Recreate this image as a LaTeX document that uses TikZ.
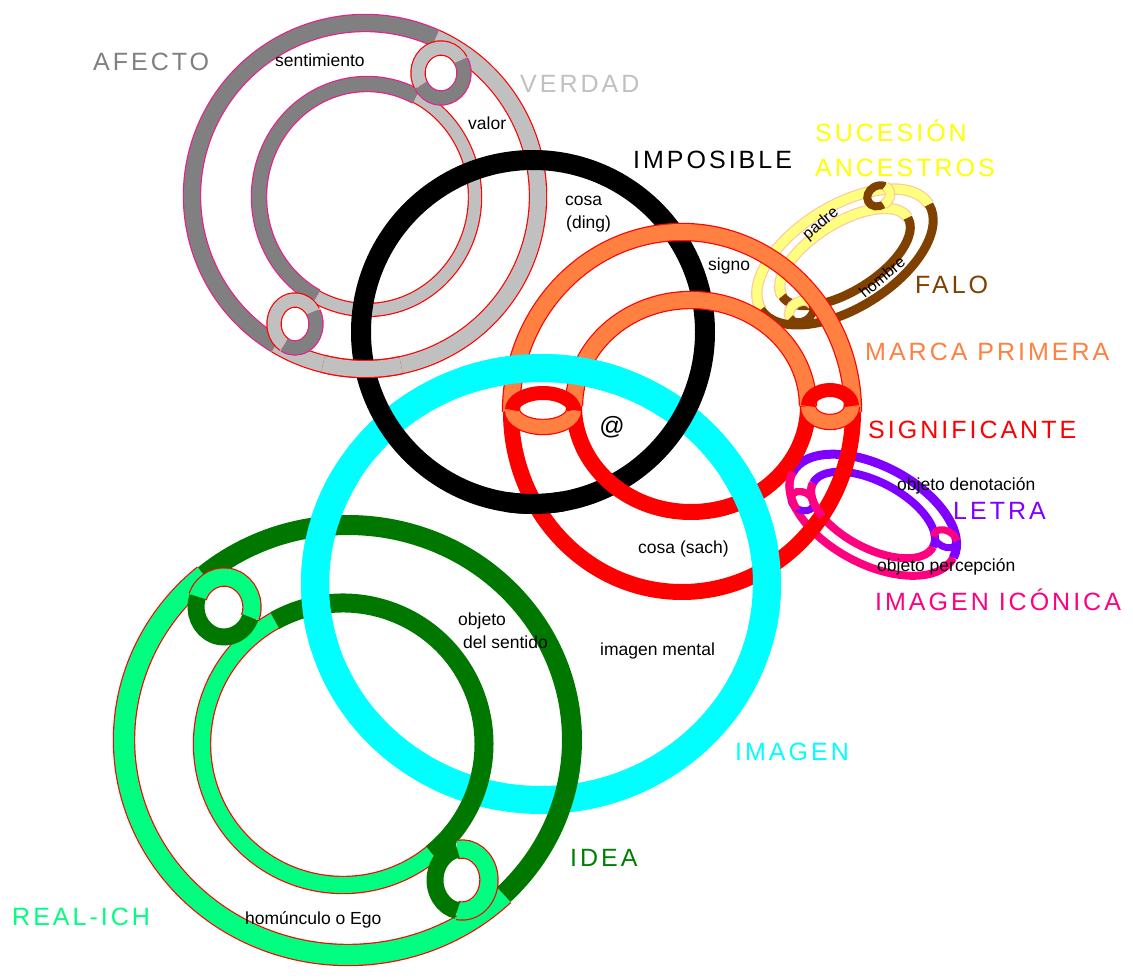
\documentclass[tikz,border=0pt]{standalone}
\usepackage{fontspec}
\setmainfont{Liberation Sans}
\newfontfamily\bigf[LetterSpace=12]{Liberation Sans}
\definecolor{cgray}{HTML}{808080}
\definecolor{csilver}{HTML}{C0C0C0}
\definecolor{cpinkol}{HTML}{E8208C}
\definecolor{cred}{HTML}{FF0000}
\definecolor{corange}{HTML}{FF8040}
\definecolor{ccyan}{HTML}{00FFFF}
\definecolor{cdkgreen}{HTML}{007800}
\definecolor{cltgreen}{HTML}{00FF80}
\definecolor{cbrown}{HTML}{804000}
\definecolor{cpaleyel}{HTML}{FFFF80}
\definecolor{cyelol}{HTML}{FFC8A0}
\definecolor{cyellow}{HTML}{FFFF00}
\definecolor{cpurple}{HTML}{8000FF}
\definecolor{cmagenta}{HTML}{FF0080}
\definecolor{ctxtgreen}{HTML}{008000}
% arc of an ellipse: style, cx, cy, rx, ry, start, end
\newcommand{\earc}[7]{\draw[#1] ([shift={(#6:#4 and #5)}]#2,#3) arc[start angle=#6,end angle=#7,x radius=#4,y radius=#5];}
% outlined band arc: colour, outline colour, width, cx, cy, rx, ry, start, end
\newcommand{\oarc}[9]{\earc{draw=#2,line width=#3+2.4}{#4}{#5}{#6}{#7}{#8}{#9}\earc{draw=#1,line width=#3}{#4}{#5}{#6}{#7}{#8}{#9}}
\begin{document}
\begin{tikzpicture}[x=1pt,y=-1pt,line cap=butt,
  lab/.style={inner sep=0pt,anchor=base west,font=\bigf\fontsize{25}{25}\selectfont},
  sm/.style={inner sep=0pt,anchor=base west,font=\fontsize{17.5}{20}\selectfont},
  rot/.style={inner sep=0pt,rotate=40,font=\fontsize{16}{16}\selectfont}]
\fill[white] (0,0) rectangle (1133,979);
\useasboundingbox (0,0) rectangle (1133,979);

% ---------- AFECTO / VERDAD (gray / silver) ----------
\oarc{csilver}{cred}{16}{365}{196}{173}{173}{-66}{121}
\oarc{cgray}{cpinkol}{16}{365}{196}{173}{173}{121}{294}
\oarc{csilver}{cred}{12}{367}{197}{108}{113}{-63}{118}
\oarc{cgray}{cpinkol}{14}{367}{197}{108}{113}{118}{297}
\oarc{csilver}{cred}{13}{441}{73}{23}{25}{150}{330}
\oarc{cgray}{cpinkol}{13}{441}{73}{23}{25}{-30}{150}
\oarc{csilver}{cred}{13}{295}{324}{21}{24}{120}{330}
\oarc{cgray}{cpinkol}{13}{295}{324}{21}{24}{-30}{120}

% ---------- IMAGEN (cyan) ----------
\draw[ccyan,line width=28] (541,584) ellipse[x radius=226,y radius=216];

% ---------- IMPOSIBLE (black) ----------
\draw[black,line width=20] (533,332) circle[radius=172];
\oarc{csilver}{cred}{16}{365}{196}{173}{173}{78}{104}

% ---------- SUCESION ANCESTROS / FALO ----------
\begin{scope}[shift={(845,257)},rotate=32]
\oarc{cpaleyel}{cyelol}{9}{0}{0}{99}{51}{180}{360}
\earc{draw=cbrown,line width=9}{0}{0}{99}{51}{0}{180}
\oarc{cpaleyel}{cyelol}{9}{0}{0}{74}{34}{180}{360}
\earc{draw=cbrown,line width=9}{0}{0}{74}{34}{0}{180}
\earc{draw=cbrown,line width=8}{61}{-34}{12}{10}{92}{332}
\oarc{cpaleyel}{cyelol}{8}{61}{-34}{12}{10}{-28}{92}
\oarc{cpaleyel}{cyelol}{8}{-66}{23}{13}{10}{182}{362}
\earc{draw=cbrown,line width=8}{-66}{23}{13}{10}{2}{182}
\end{scope}

% ---------- LETRA / IMAGEN ICONICA ----------
\begin{scope}[shift={(873,515)},rotate=-28]
\earc{draw=cmagenta,line width=8}{0}{0}{91}{49}{0}{180}
\earc{draw=cpurple,line width=9}{0}{0}{91}{49}{180}{360}
\earc{draw=cmagenta,line width=8}{0}{0}{68}{33}{0}{180}
\earc{draw=cpurple,line width=8}{0}{0}{68}{33}{180}{360}
\earc{draw=cpurple,line width=7}{-69}{21}{12}{9}{-25}{155}
\earc{draw=cmagenta,line width=7}{-69}{21}{12}{9}{155}{335}
\earc{draw=cpurple,line width=7}{75}{-13}{12}{8}{-25}{155}
\earc{draw=cmagenta,line width=7}{75}{-13}{12}{8}{155}{335}
\end{scope}

% ---------- MARCA PRIMERA / SIGNIFICANTE ----------
\oarc{corange}{cred}{16}{682}{412}{171}{180}{180}{360}
\earc{draw=cred,line width=16}{682}{412}{171}{180}{0}{180}
\oarc{corange}{cred}{16}{691}{406}{117}{106}{180}{360}
\earc{draw=cred,line width=16}{691}{406}{117}{106}{0}{180}
\oarc{corange}{cred}{14}{543}{410}{31}{17}{0}{180}
\earc{draw=cred,line width=14}{543}{410}{31}{17}{180}{360}
\oarc{corange}{cred}{14}{830}{406}{22}{16}{0}{180}
\earc{draw=cred,line width=14}{830}{406}{22}{16}{180}{360}

% pink passes over the red band
\begin{scope}[shift={(873,515)},rotate=-28]
\earc{draw=cmagenta,line width=8}{0}{0}{91}{49}{140}{180}
\earc{draw=cmagenta,line width=8}{0}{0}{68}{33}{130}{180}
\earc{draw=cmagenta,line width=7}{-69}{21}{12}{9}{155}{335}
\end{scope}

% crossings
\earc{draw=black,line width=20}{533}{332}{172}{172}{80}{99}
\earc{draw=ccyan,line width=28}{541}{584}{226}{216}{250}{290}
\earc{draw=ccyan,line width=28}{541}{584}{226}{216}{328}{372}

% ---------- IDEA / REAL-ICH (greens) ----------
\earc{draw=cdkgreen,line width=20}{348}{740}{224}{215}{-130}{46}
\oarc{cltgreen}{cred}{20}{348}{740}{224}{215}{46}{230}
\earc{draw=cdkgreen,line width=19}{343}{744}{141}{141}{-119}{51}
\oarc{cltgreen}{cred}{16}{343}{744}{141}{141}{51}{241}
\oarc{cltgreen}{cred}{17}{224}{607}{28}{30}{200}{380}
\earc{draw=cdkgreen,line width=17}{224}{607}{28}{30}{20}{200}
\oarc{cltgreen}{cred}{17}{462}{880}{27}{31}{-100}{100}
\earc{draw=cdkgreen,line width=17}{462}{880}{27}{31}{100}{260}
\earc{draw=ccyan,line width=28}{541}{584}{226}{216}{163}{210}

% ---------- labels ----------
\node[lab,text=cgray] (afecto) at (93,71) {AFECTO};
\node[sm] (sentimiento) at (275,67) {sentimiento};
\node[lab,text=csilver] (verdad) at (520,93) {VERDAD};
\node[sm] (valor) at (468,130) {valor};
\node[lab] (imposible) at (633,168) {IMPOSIBLE};
\node[sm] (cosa) at (565,205) {cosa};
\node[sm] (ding) at (566,229) {(ding)};
\node[lab,text=cyellow] (sucesion) at (815,142) {SUCESIÓN};
\node[lab,text=cyellow] (ancestros) at (815,177) {ANCESTROS};
\node[sm] (signo) at (708,270) {signo};
\node[rot] (padre) at (821,224) {padre};
\node[rot] (hombre) at (882,277) {hombre};
\node[lab,text=cbrown] (falo) at (915,293) {FALO};
\node[lab,text=corange] (marca) at (865,360) {MARCA PRIMERA};
\node[lab,text=cred] (signif) at (868,438) {SIGNIFICANTE};
\node[inner sep=0pt,font=\fontsize{25}{25}\selectfont] (arroba) at (612,427) {@};
\node[sm] (denot) at (897,490) {objeto denotación};
\node[lab,text=cpurple] (letra) at (953,519) {LETRA};
\node[sm] (percep) at (877,571) {objeto percepción};
\node[lab,text=cmagenta] (iconica) at (875,610) {IMAGEN ICÓNICA};
\node[sm] (sach) at (638,553) {cosa (sach)};
\node[sm] (objeto) at (458,625) {objeto};
\node[sm] (delsent) at (463,648) {del sentido};
\node[sm] (mental) at (600,655) {imagen mental};
\node[lab,text=ccyan] (imagen) at (735,760) {IMAGEN};
\node[lab,text=ctxtgreen] (idea) at (570,866) {IDEA};
\node[lab,text=cltgreen] (realich) at (12,925) {REAL-ICH};
\node[sm] (ego) at (245,924) {homúnculo o Ego};
\end{tikzpicture}
\end{document}
